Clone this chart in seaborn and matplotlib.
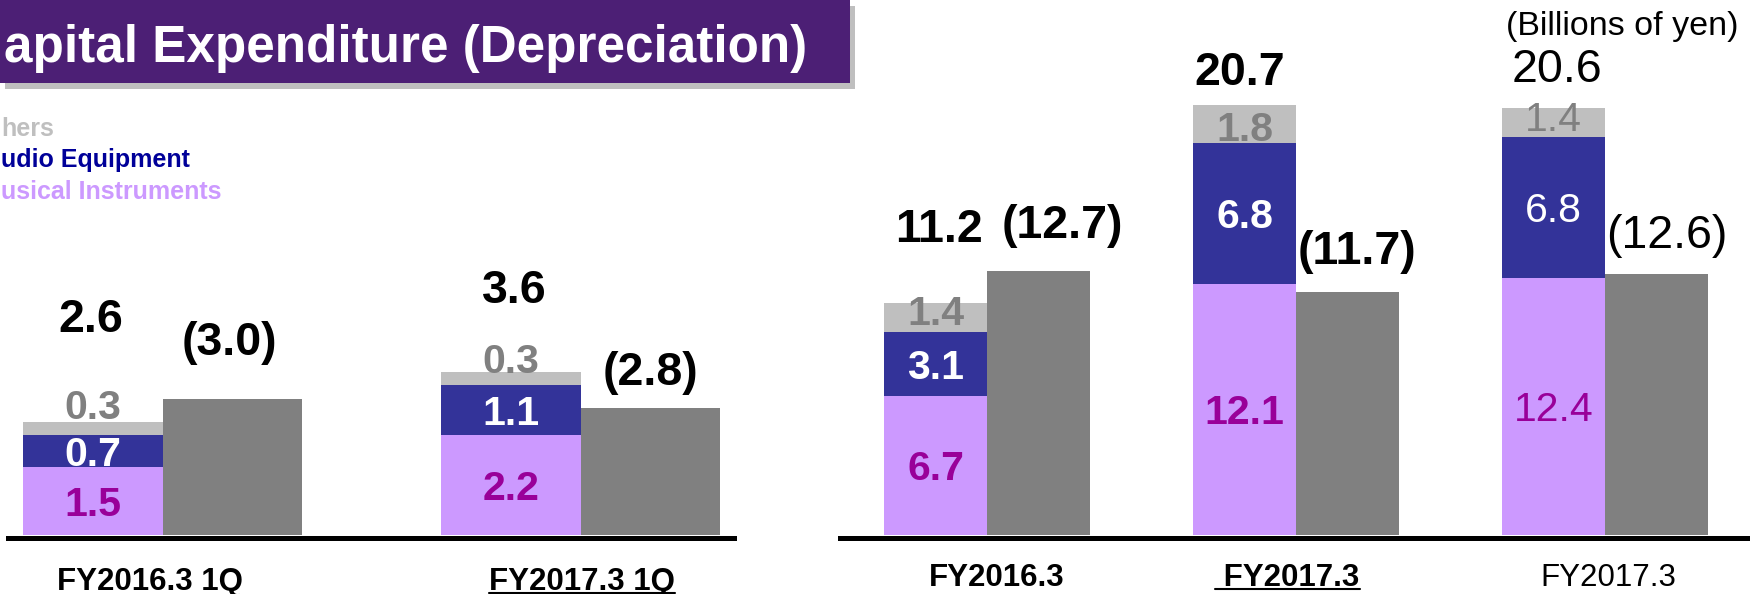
import matplotlib
matplotlib.use('Agg')
import numpy as np
import pandas as pd
import matplotlib.pyplot as plt
import seaborn as sns
from matplotlib.patches import Rectangle
from matplotlib.lines import Line2D
from matplotlib.transforms import ScaledTranslation

# ---- data (billions of yen) ----
# first quarter panel
q_periods = ["FY2016.3 1Q", "FY2017.3 1Q"]
q_musical = [1.5, 2.2]
q_audio = [0.7, 1.1]
q_others = [0.3, 0.3]
q_capex_total = [2.6, 3.6]
q_depreciation = [3.0, 2.8]

# full year panel (last one is the plan, hence the plain font)
y_periods = ["FY2016.3", " FY2017.3", "FY2017.3"]
y_musical = [6.7, 12.1, 12.4]
y_audio = [3.1, 6.8, 6.8]
y_others = [1.4, 1.8, 1.4]
y_capex_total = [11.2, 20.7, 20.6]
y_depreciation = [12.7, 11.7, 12.6]

# the slide is cropped on the left, so only these parts are visible
legend_labels = ["hers", "udio Equipment", "usical Instruments"]
title = "apital Expenditure (Depreciation)"
unit_note = "(Billions of yen)"

C_MUS, C_AUD, C_OTH, C_DEP = "#CC99FF", "#333399", "#BFBFBF", "#808080"
C_MUS_TXT, C_OTH_TXT = "#990099", "#808080"
C_TITLE = "#4C1F75"

sns.set_style("white")
plt.rcParams['font.family'] = ['Liberation Sans', 'DejaVu Sans']

W, H = 1758, 594
fig = plt.figure(figsize=(W / 100, H / 100), dpi=100)
PT = 0.72  # pixels -> points


def px_axes(x0, x1, bottom, top):
    ax = fig.add_axes([x0 / W, (H - bottom) / H, (x1 - x0) / W, (bottom - top) / H])
    ax.set_facecolor('none')
    return ax


def draw_panel(ax, periods, musical, audio, others, dep):
    # stacked capex drawn as overlapping cumulative bars, depreciation beside it
    layers = [
        (np.add(np.add(musical, audio), others), C_OTH),
        (np.add(musical, audio), C_AUD),
        (np.array(musical, dtype=float), C_MUS),
    ]
    for top, color in layers:
        df = pd.DataFrame({
            "period": list(periods) * 2,
            "kind": ["capex"] * len(periods) + ["dep"] * len(periods),
            "value": list(top) + list(dep),
        })
        sns.barplot(data=df, x="period", y="value", hue="kind", order=periods,
                    hue_order=["capex", "dep"], palette={"capex": color, "dep": C_DEP},
                    width=0.667, gap=0, saturation=1, errorbar=None, linewidth=0,
                    legend=False, ax=ax)
    cap_bars, dep_bars = ax.containers[-2], ax.containers[-1]
    cap_x = [p.get_x() + p.get_width() / 2 for p in cap_bars]
    dep_x = [p.get_x() + p.get_width() / 2 for p in dep_bars]
    ax.set_xlabel("")
    ax.set_ylabel("")
    ax.set_yticks([])
    for s in ["left", "right", "top"]:
        ax.spines[s].set_visible(False)
    ax.spines["bottom"].set_linewidth(3.6)
    ax.spines["bottom"].set_color("black")
    ax.spines["bottom"].set_position(("outward", 1.8))
    return cap_x, dep_x


def label(ax, x, y, text, color, size, weight, dx_px=0, rise_px=0):
    ax.annotate(text, xy=(x, y), xytext=(dx_px * PT, rise_px * PT), textcoords="offset points",
                ha="center", va="center_baseline", color=color, fontsize=size,
                fontweight=weight, annotation_clip=False)


def annotate_panel(ax, cap_x, dep_x, musical, audio, others, totals, dep, weights,
                   tot_dx, tot_rise, dep_dx, dep_rise, oth_rise):
    for i in range(len(musical)):
        w = weights[i]
        m, a, o = musical[i], audio[i], others[i]
        label(ax, cap_x[i], m / 2, f"{m:.1f}", C_MUS_TXT, 29.5, w)
        label(ax, cap_x[i], m + a / 2, f"{a:.1f}", "white", 29.5, w)
        label(ax, cap_x[i], m + a + o / 2, f"{o:.1f}", C_OTH_TXT, 29.5, w, rise_px=oth_rise[i])
        label(ax, cap_x[i], m + a + o, f"{totals[i]:.1f}", "black", 33.5, w,
              dx_px=tot_dx[i], rise_px=tot_rise[i])
        label(ax, dep_x[i], dep[i], f"({dep[i]:.1f})", "black", 33.5, w,
              dx_px=dep_dx[i], rise_px=dep_rise[i])


def style_ticks(ax, pad, dx_list, weights):
    ax.tick_params(axis="x", length=0, pad=pad, labelsize=22.5, colors="black")
    for lab, dx, w in zip(ax.get_xticklabels(), dx_list, weights):
        lab.set_fontweight(w)
        lab.set_transform(lab.get_transform() + ScaledTranslation(dx / 100, 0, fig.dpi_scale_trans))


# ---- left panel (1Q) ----
axl = px_axes(8, 734, 535, 0)
qx_cap, qx_dep = draw_panel(axl, q_periods, q_musical, q_audio, q_others, q_depreciation)
axl.set_xlim(-0.37, 1.367)
axl.set_ylim(0, 535 / 45.4)
annotate_panel(axl, qx_cap, qx_dep, q_musical, q_audio, q_others, q_capex_total, q_depreciation,
               ["bold", "bold"], tot_dx=[-2.5, 3.5], tot_rise=[106.5, 86],
               dep_dx=[-3, 0], dep_rise=[61, 40], oth_rise=[24.5, 20.5])
style_ticks(axl, 21, [-12.5, 1.5], ["bold", "bold"])

# ---- right panel (full year) ----
axr = px_axes(840, 1747, 535, 0)
yx_cap, yx_dep = draw_panel(axr, y_periods, y_musical, y_audio, y_others, y_depreciation)
axr.set_xlim(-0.476, 2.46)
axr.set_ylim(0, 535 / 20.75)
y_weights = ["bold", "bold", "normal"]
annotate_panel(axr, yx_cap, yx_dep, y_musical, y_audio, y_others, y_capex_total, y_depreciation,
               y_weights, tot_dx=[3.5, -4.5, 3.5], tot_rise=[78, 37, 42.5],
               dep_dx=[24, 10, 10], dep_rise=[50, 45, 42.5], oth_rise=[7, -2, 6])
style_ticks(axr, 18, [10, -8.5, 3], y_weights)

# ---- title bar with shadow ----
fig.add_artist(Rectangle((5 / W, (H - 89) / H), 850 / W, 83 / H, transform=fig.transFigure,
                         facecolor="#BFBFBF", edgecolor="none", zorder=1))
fig.add_artist(Rectangle((0, (H - 83) / H), 850 / W, 83 / H, transform=fig.transFigure,
                         facecolor=C_TITLE, edgecolor="none", zorder=2))
fig.text(4 / W, (H - 62) / H, title, ha="left", va="baseline", color="white",
         fontsize=36.9, fontweight="bold", zorder=3)

# ---- legend text ----
for txt, col, base in zip(legend_labels, [C_OTH, "#000099", C_MUS], [136, 167, 199]):
    fig.text(1 / W, (H - base) / H, txt, ha="left", va="baseline", color=col,
             fontsize=18, fontweight="bold")

fig.text(1622.5 / W, (H - 34.5) / H, unit_note, ha="center", va="baseline",
         color="black", fontsize=24.5)

# ---- underline the current-year labels ----
fig.canvas.draw()
renderer = fig.canvas.get_renderer()
for lab in [axl.get_xticklabels()[1], axr.get_xticklabels()[1]]:
    bb = lab.get_window_extent(renderer)
    y = bb.y0 + 3.5
    fig.add_artist(Line2D([bb.x0 / W, bb.x1 / W], [y / H, y / H], transform=fig.transFigure,
                          color="black", linewidth=1.5))

fig.savefig("out.png", dpi=100)
